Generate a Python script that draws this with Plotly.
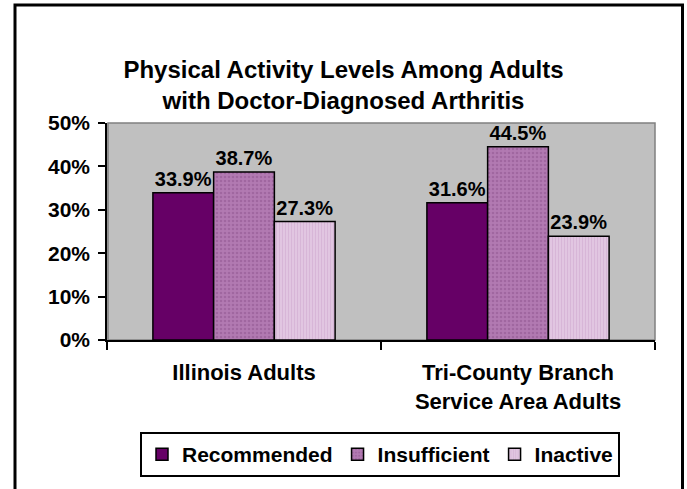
import plotly.graph_objects as go

categories = ["Illinois Adults", "Tri-County Branch<br>Service Area Adults"]
series_names = ["Recommended", "Insufficient", "Inactive"]
recommended = [33.9, 31.6]
insufficient = [38.7, 44.5]
inactive = [27.3, 23.9]
y_ticks = [0, 10, 20, 30, 40, 50]
y_tick_labels = ["0%", "10%", "20%", "30%", "40%", "50%"]

FONT = "Liberation Sans, Arial, sans-serif"

styles = [
    dict(color="#660066", pattern=None),
    dict(color="#B27AB2", pattern=dict(shape=".", fgcolor="#8E548E", size=4, solidity=0.35)),
    dict(color="#E3C8E3", pattern=dict(shape="|", fgcolor="#CBA3CB", size=3, solidity=0.4)),
]

fig = go.Figure()
for name, vals, st in zip(series_names, [recommended, insufficient, inactive], styles):
    marker = dict(color=st["color"], line=dict(color="black", width=1.5))
    if st["pattern"]:
        marker["pattern"] = st["pattern"]
    fig.add_trace(go.Bar(
        name=f"<b>{name}</b>", x=categories, y=vals, marker=marker,
        text=[f"{v:.1f}%" for v in vals], texttemplate="<b>%{text}</b>",
        textposition="outside",
        textfont=dict(family=FONT, size=20, color="black"),
        cliponaxis=False,
    ))

W, H = 687, 489
L, R, T, B = 107, 32, 123, 149
pw, ph = W - L - R, H - T - B

def px(x):
    return (x - L) / pw

def py(y):
    return (H - B - y) / ph

fig.update_layout(
    width=W, height=H,
    margin=dict(l=L, r=R, t=T, b=B),
    paper_bgcolor="white",
    plot_bgcolor="#C0C0C0",
    barmode="group", bargap=0.335, bargroupgap=0,
    font=dict(family=FONT, size=20, color="black"),
    title=dict(
        text="<b>Physical Activity Levels Among Adults<br>with Doctor-Diagnosed Arthritis</b>",
        x=0.5, xref="container", xanchor="center",
        y=1 - 78 / H, yanchor="middle",
        font=dict(family=FONT, size=24, color="black"),
    ),
    showlegend=True,
    legend=dict(
        orientation="h", x=px(380), xanchor="center", y=py(432), yanchor="top",
        bordercolor="black", borderwidth=2, bgcolor="white",
        font=dict(family=FONT, size=21, color="black"),
        itemwidth=30, traceorder="normal",
    ),
    xaxis=dict(
        showline=True, linecolor="black", linewidth=1.5,
        ticks="outside", ticklen=8, tickcolor="black", tickwidth=1.5,
        tickson="boundaries", showgrid=False,
        tickvals=categories, ticktext=[f"<b>{c}</b>" for c in categories],
        tickfont=dict(family=FONT, size=22, color="black"),
        ticklabelstandoff=12,
    ),
    yaxis=dict(
        range=[0, 50], tickvals=y_ticks, ticktext=[f"<b>{t}</b>" for t in y_tick_labels],
        showline=True, linecolor="black", linewidth=1.5,
        ticks="outside", ticklen=7, tickcolor="black", tickwidth=1.5,
        showgrid=False, zeroline=False,
        tickfont=dict(family=FONT, size=21, color="black"),
        ticklabelstandoff=4,
    ),
    shapes=[
        dict(type="rect", xref="paper", yref="paper",
             x0=px(108), x1=px(655), y0=py(340), y1=py(123),
             line=dict(color="#808080", width=1.5), fillcolor="rgba(0,0,0,0)", layer="below"),
        dict(type="rect", xref="paper", yref="paper",
             x0=px(15), x1=px(682.5), y0=py(520), y1=py(5),
             line=dict(color="black", width=3), fillcolor="rgba(0,0,0,0)"),
    ],
)

fig.write_html("out.html", config={"displayModeBar": False},
               post_script="document.body.style.margin='0';")
